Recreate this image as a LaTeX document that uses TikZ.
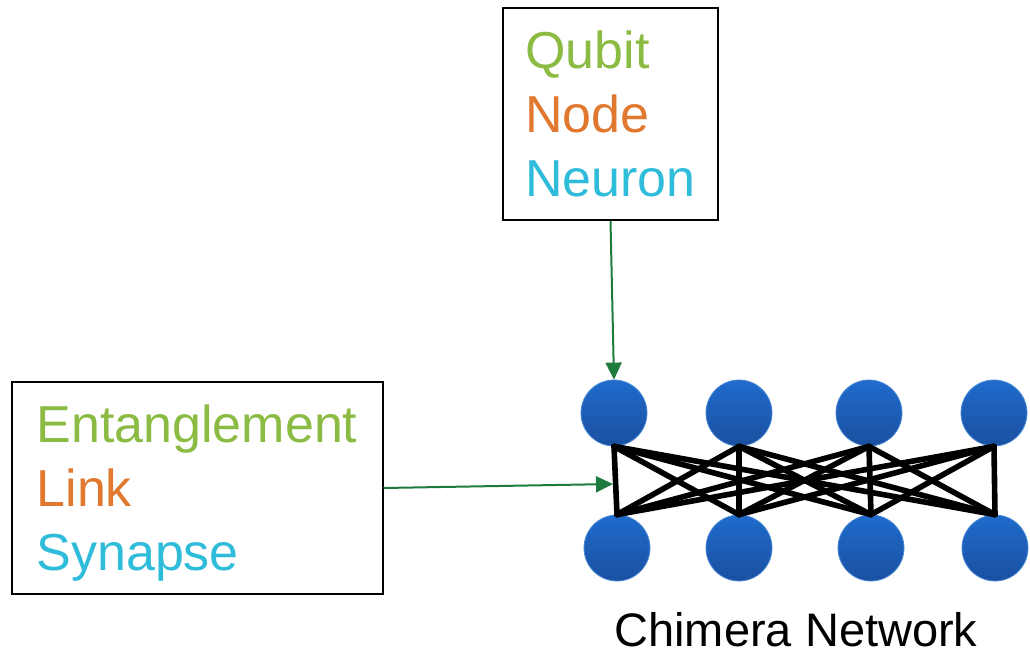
\documentclass[tikz,border=0pt]{standalone}
\usepackage{fontspec}
\setmainfont{Liberation Sans}
\usetikzlibrary{arrows.meta,positioning}
\definecolor{qgreen}{HTML}{8CBB44}
\definecolor{qorange}{HTML}{E07830}
\definecolor{qcyan}{HTML}{2EBCDA}
\definecolor{arrgreen}{HTML}{1E7A3E}
\definecolor{qtop}{HTML}{1F6BCC}
\definecolor{qbot}{HTML}{1A50A0}

\begin{document}
\begin{tikzpicture}[x=0.5pt,y=-0.5pt,
    labelbox/.style={draw,line width=1pt,align=left,inner sep=0pt,text depth=0pt,
      font=\fontsize{26}{32}\selectfont},
    qubit/.style={circle,minimum size=33pt,inner sep=0pt,draw=qtop!80!white,
      line width=0.4pt,top color=qtop,bottom color=qbot},
    coupler/.style={line width=2.8pt,line cap=round},
    pointer/.style={arrgreen,line width=1pt,-{Triangle[length=8.5pt,width=8pt]}}]
   \useasboundingbox (0,0) rectangle (1030,655);
   \node[labelbox,minimum width=107.5pt,minimum height=106pt] (roles) at (610.5,114)
     {\color{qgreen}Qubit\\ \color{qorange}Node\\ \color{qcyan}Neuron};
   \node[labelbox,minimum width=185.5pt,minimum height=106pt] (links) at (197,488)
     {\color{qgreen}Entanglement\\ \color{qorange}Link\\ \color{qcyan}Synapse};
   % unit cell: two rows of four qubits
   \foreach \i/\xt/\xb in {1/614/617,2/739/739,3/869/871,4/994/995} {
     \node[qubit] (t\i) at (\xt,413) {};
     \node[qubit] (b\i) at (\xb,548) {};
   }
   \foreach \i in {1,...,4}
     \foreach \j in {1,...,4}
       \draw[coupler] (t\i.south) -- (b\j.north);
   \node[anchor=base,inner sep=0pt,font=\fontsize{23.5}{28}\selectfont] (title) at (796,646) {Chimera Network};
   \coordinate (hit) at (613,484);
   \draw[pointer] (roles.south) -- (t1.north);
   \draw[pointer] (links.east) -- (hit);
\end{tikzpicture}
\end{document}
